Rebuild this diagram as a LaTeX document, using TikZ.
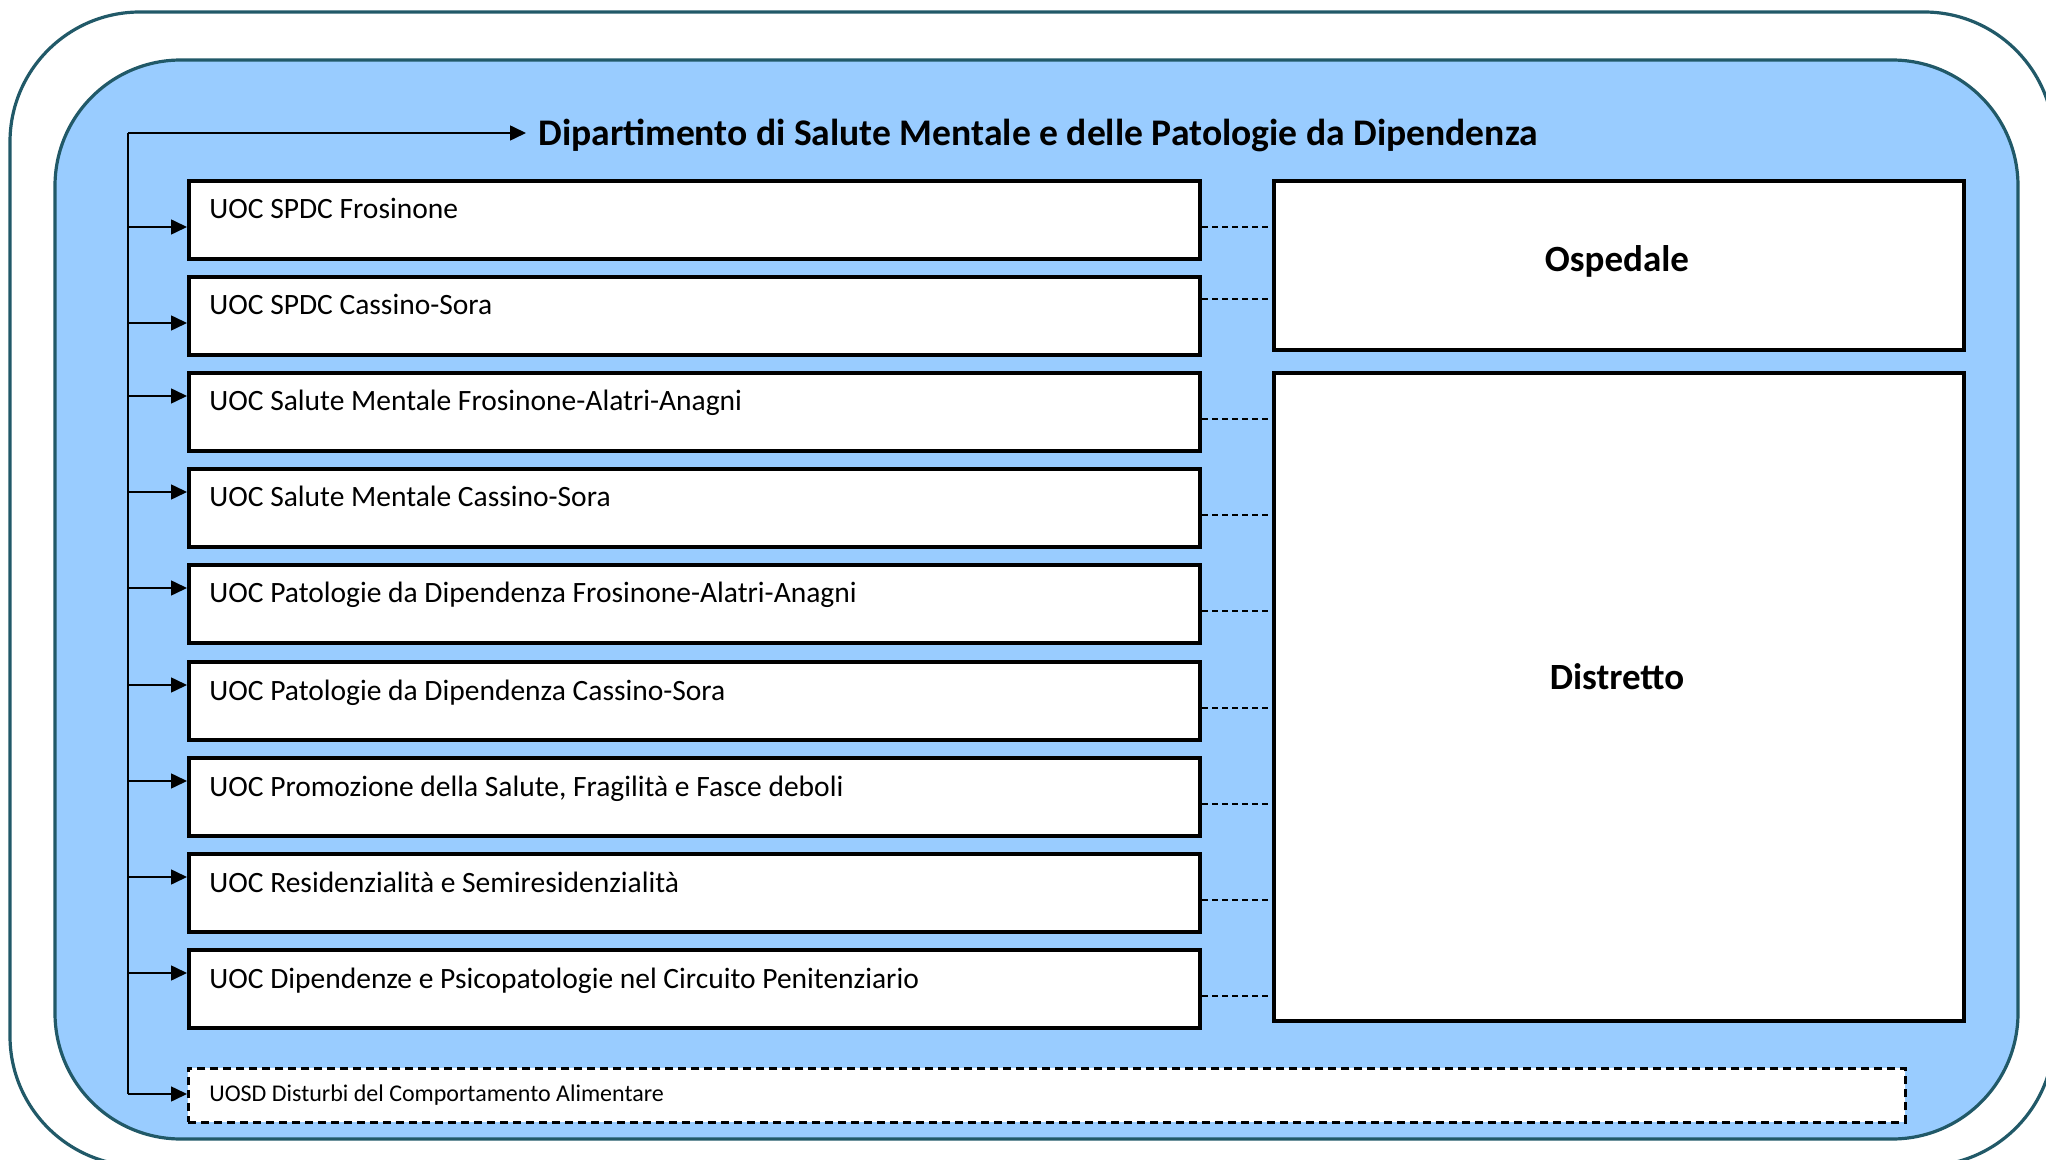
\documentclass[tikz,border=0pt]{standalone}
\usepackage{fontspec}
\setmainfont{Carlito}
\usetikzlibrary{arrows.meta,calc}
\definecolor{tealb}{HTML}{215968}
\definecolor{lblue}{HTML}{99CCFF}
\begin{document}
\begin{tikzpicture}[x=0.5pt,y=-0.5pt,
  ubox/.style={draw=black,fill=white,line width=2.2pt,anchor=north west,minimum width=505.5pt,minimum height=39pt,inner sep=0pt},
  utext/.style={anchor=base west,inner sep=0pt,font=\fontsize{14.75pt}{17pt}\selectfont},
  bigbox/.style={draw=black,fill=white,line width=2.2pt,anchor=north west,minimum width=345pt,inner sep=0pt},
  bigtext/.style={font=\fontsize{18.5pt}{22pt}\selectfont\bfseries},
  arr/.style={line width=0.8pt,-{Triangle[length=8pt,width=7.5pt]}},
  conn/.style={line width=0.8pt,dash pattern=on 3pt off 2pt}]
\useasboundingbox (0,0) rectangle (2046,1160);
% frames
\draw[tealb,line width=1.6pt,rounded corners=65pt] (10,12) rectangle (2054,1166);
\draw[tealb,fill=lblue,line width=1.6pt,rounded corners=63pt] (55,60) rectangle (2018,1139);
% title
\node[anchor=west,font=\fontsize{18.8pt}{22pt}\selectfont\bfseries,inner sep=0pt] (title) at (538,135) {Dipartimento di Salute Mentale e delle Patologie da Dipendenza};
% right boxes
\node[bigbox,minimum height=84.5pt] (osp) at (1272,179) {};
\node[bigtext] (ospt) at (1617,261) {Ospedale};
\node[bigbox,minimum height=324pt] (dis) at (1272,371) {};
\node[bigtext] (dist) at (1617,677) {Distretto};
% left boxes
\node[ubox] (b1) at (187,179) {};
\node[ubox] (b2) at (187,275) {};
\node[ubox] (b3) at (187,371) {};
\node[ubox] (b4) at (187,467) {};
\node[ubox] (b5) at (187,563) {};
\node[ubox] (b6) at (187,660) {};
\node[ubox] (b7) at (187,756) {};
\node[ubox] (b8) at (187,852) {};
\node[ubox] (b9) at (187,948) {};
\node[draw=black,fill=white,line width=1.3pt,dash pattern=on 4pt off 2.5pt,anchor=north west,minimum width=858.5pt,minimum height=27pt,inner sep=0pt] (b10) at (187,1067) {};
\node[utext] (t1) at ($(b1.north west)+(22,40)$) {UOC SPDC Frosinone};
\node[utext] (t2) at ($(b2.north west)+(22,40)$) {UOC SPDC Cassino-Sora};
\node[utext] (t3) at ($(b3.north west)+(22,40)$) {UOC Salute Mentale Frosinone-Alatri-Anagni};
\node[utext] (t4) at ($(b4.north west)+(22,40)$) {UOC Salute Mentale Cassino-Sora};
\node[utext] (t5) at ($(b5.north west)+(22,40)$) {UOC Patologie da Dipendenza Frosinone-Alatri-Anagni};
\node[utext] (t6) at ($(b6.north west)+(22,40)$) {UOC Patologie da Dipendenza Cassino-Sora};
\node[utext] (t7) at ($(b7.north west)+(22,40)$) {UOC Promozione della Salute, Fragilità e Fasce deboli};
\node[utext] (t8) at ($(b8.north west)+(22,40)$) {UOC Residenzialità e Semiresidenzialità};
\node[utext] (t9) at ($(b9.north west)+(22,40)$) {UOC Dipendenze e Psicopatologie nel Circuito Penitenziario};
\node[anchor=base west,inner sep=0pt,font=\fontsize{12pt}{14pt}\selectfont] (t10) at (209,1101) {UOSD Disturbi del Comportamento Alimentare};
% trunk
\coordinate (top) at (128,133);
\coordinate (bot) at (128,1094);
\draw[line width=0.8pt] (bot) -- (top);
\draw[arr,shorten >=6pt] (top) -- (top -| title.west);
\coordinate (a1) at (128,227);
\coordinate (a2) at (128,323);
\coordinate (a3) at (128,396);
\coordinate (a4) at (128,492);
\coordinate (a5) at (128,588);
\coordinate (a6) at (128,685);
\coordinate (a7) at (128,781);
\coordinate (a8) at (128,877);
\coordinate (a9) at (128,973);
\foreach \i in {1,...,9} {\draw[arr] (a\i) -- (a\i -| b\i.west);}
\draw[arr] (bot) -- (bot -| b10.west);
% dashed links
\coordinate (c1) at ($(b1.north east)+(0,48)$);
\coordinate (c2) at ($(b2.north east)+(0,24)$);
\draw[conn] (c1) -- (c1 -| osp.west);
\draw[conn] (c2) -- (c2 -| osp.west);
\foreach \i in {3,...,9} {
  \coordinate (c\i) at ($(b\i.north east)+(0,48)$);
  \draw[conn] (c\i) -- (c\i -| dis.west);
}
\end{tikzpicture}
\end{document}
